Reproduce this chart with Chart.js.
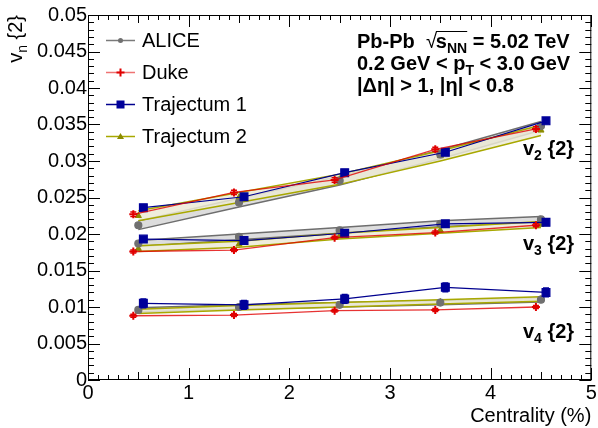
<!DOCTYPE html>
<html>
<head>
<meta charset="utf-8">
<script src="https://cdn.jsdelivr.net/npm/chart.js@4.4.0/dist/chart.umd.min.js"></script>
<style>
  html, body { margin: 0; padding: 0; background: #fff; }
</style>
</head>
<body>
<canvas id="flowChart" width="598" height="428"></canvas>
<script>
// centrality bins (x), models are shifted a bit left / right like in the original
const centrality = [0.5, 1.5, 2.5, 3.5, 4.5];
const dukeX = [0.45, 1.45, 2.45, 3.45, 4.45];
const traj1X = [0.55, 1.55, 2.55, 3.55, 4.55];

const aliceV2 = [0.0212, 0.0243, 0.0273, 0.0309, 0.0348];
const aliceV3 = [0.0187, 0.0196, 0.0205, 0.0214, 0.0220];
const aliceV4 = [0.0096, 0.0100, 0.0103, 0.0106, 0.0110];
const aliceBandV2 = [0.0006, 0.0006, 0.0006, 0.0006, 0.0006];
const aliceBandV3 = [0.0004, 0.0004, 0.0004, 0.0004, 0.0004];
const aliceBandV4 = [0.0003, 0.0003, 0.0003, 0.0003, 0.0003];

const dukeV2 = [0.0227, 0.0257, 0.0274, 0.0316, 0.0344];
const dukeV3 = [0.0176, 0.0178, 0.0195, 0.0202, 0.0212];
const dukeV4 = [0.0088, 0.0089, 0.0095, 0.0096, 0.0100];
const dukeErrV2 = [0.0003, 0.0003, 0.0003, 0.0003, 0.0003];
const dukeErrV3 = [0.0002, 0.0002, 0.0002, 0.0002, 0.0002];
const dukeErrV4 = [0.0002, 0.0002, 0.0002, 0.0002, 0.0002];

const traj1V2 = [0.0236, 0.0251, 0.0284, 0.0312, 0.0355];
const traj1V3 = [0.0193, 0.0191, 0.0201, 0.0214, 0.0216];
const traj1V4 = [0.0105, 0.0103, 0.0111, 0.0127, 0.0120];
const traj1ErrV2 = [0.0003, 0.0003, 0.0003, 0.0003, 0.0003];
const traj1ErrV3 = [0.0003, 0.0003, 0.0003, 0.0003, 0.0003];
const traj1ErrV4 = [0.0006, 0.0006, 0.0006, 0.0006, 0.0006];

const traj2V2 = [0.0225, 0.0250, 0.0275, 0.0307, 0.0342];
const traj2V3 = [0.0180, 0.0186, 0.0197, 0.0205, 0.0213];
const traj2V4 = [0.0094, 0.0099, 0.0103, 0.0107, 0.0111];
const traj2BandV2 = [0.0007, 0.0007, 0.0007, 0.0007, 0.0007];
const traj2BandV3 = [0.0004, 0.0004, 0.0004, 0.0004, 0.0004];
const traj2BandV4 = [0.0003, 0.0003, 0.0003, 0.0003, 0.0003];

const harmonics = ['2', '3', '4'];
const seriesNames = ['ALICE', 'Duke', 'Trajectum 1', 'Trajectum 2'];

const FONT = '"Liberation Sans", Arial, Helvetica, sans-serif';
const C_ALICE = '#7a7a7a';
const C_DUKE = '#e00000';
const C_TRAJ1 = '#00008f';
const C_TRAJ2 = '#a8a800';

function pts(xs, ys) {
    return xs.map((x, i) => ({ x: x, y: ys[i] }));
}
function shifted(xs, ys, d, sign) {
    return xs.map((x, i) => ({ x: x, y: ys[i] + sign * d[i] }));
}

function bandSets(ys, d, edge, fill) {
    return [
        { data: shifted(centrality, ys, d, -1), borderColor: edge, borderWidth: 1.5, pointRadius: 0, fill: false, order: 2 },
        { data: shifted(centrality, ys, d, 1), borderColor: edge, borderWidth: 1.5, pointRadius: 0, fill: '-1', backgroundColor: fill, order: 2 }
    ];
}

const datasets = [];
// ALICE bands first (drawn lowest), then Trajectum 2 bands
[[aliceV2, aliceBandV2], [aliceV3, aliceBandV3], [aliceV4, aliceBandV4]].forEach(p => {
    bandSets(p[0], p[1], '#6e6e6e', 'rgba(215,215,215,0.85)').forEach(d => { d.order = 3; datasets.push(d); });
});
[[traj2V2, traj2BandV2], [traj2V3, traj2BandV3], [traj2V4, traj2BandV4]].forEach(p => {
    bandSets(p[0], p[1], C_TRAJ2, 'rgba(236,234,214,0.85)').forEach(d => datasets.push(d));
});
[aliceV2, aliceV3, aliceV4].forEach(v => datasets.push({
    data: pts(centrality, v), borderColor: C_ALICE, borderWidth: 1.2, showLine: false,
    pointStyle: 'circle', pointRadius: 3.5, pointBackgroundColor: '#707070', pointBorderColor: '#707070', order: 1
}));
[traj2V2, traj2V3, traj2V4].forEach(v => datasets.push({
    data: pts(centrality, v), showLine: false,
    pointStyle: 'triangle', pointRadius: 3.5, pointBackgroundColor: '#8c8c00', pointBorderColor: '#8c8c00', order: 1
}));
[[dukeV2, dukeErrV2], [dukeV3, dukeErrV3], [dukeV4, dukeErrV4]].forEach(p => datasets.push({
    data: pts(dukeX, p[0]), errors: p[1], borderColor: 'rgba(225,0,0,0.8)', borderWidth: 1.3, tension: 0,
    pointStyle: 'cross', pointRadius: 4, pointBorderWidth: 2, pointBorderColor: C_DUKE, fill: false, order: 0
}));
[[traj1V2, traj1ErrV2], [traj1V3, traj1ErrV3], [traj1V4, traj1ErrV4]].forEach(p => datasets.push({
    data: pts(traj1X, p[0]), errors: p[1], borderColor: C_TRAJ1, borderWidth: 1.2, tension: 0,
    pointStyle: 'rect', pointRadius: 5.5, pointBackgroundColor: '#00009a', pointBorderColor: '#00009a', fill: false, order: 0
}));

// draw text with sub/superscripts: parts = [[text, 'n'|'sub'|'sup'], ...]
function richWidth(ctx, parts, size, weight) {
    let w = 0;
    parts.forEach(p => {
        const s = p[1] === 'sub' || p[1] === 'sup' ? size * 0.7 : size;
        ctx.font = weight + ' ' + s + 'px ' + FONT;
        w += ctx.measureText(p[0]).width;
    });
    return w;
}
function drawRich(ctx, parts, x, y, size, weight) {
    ctx.textAlign = 'left';
    ctx.textBaseline = 'alphabetic';
    let cx = x;
    parts.forEach(p => {
        const small = p[1] === 'sub' || p[1] === 'sup';
        const s = small ? size * 0.7 : size;
        ctx.font = weight + ' ' + s + 'px ' + FONT;
        let dy = 0;
        if (p[1] === 'sub') dy = size * 0.25;
        if (p[1] === 'sup') dy = -size * 0.4;
        ctx.fillText(p[0], cx, y + dy);
        cx += ctx.measureText(p[0]).width;
    });
    return cx;
}

const rootStyle = {
    id: 'rootStyle',
    afterDatasetsDraw(chart) {
        const ctx = chart.ctx;
        const ys = chart.scales.y;
        // error bars
        chart.data.datasets.forEach((ds, i) => {
            if (!ds.errors) return;
            const meta = chart.getDatasetMeta(i);
            ctx.save();
            ctx.strokeStyle = ds.pointBorderColor;
            ctx.lineWidth = 1.5;
            meta.data.forEach((pt, j) => {
                const v = ds.data[j].y;
                const y1 = ys.getPixelForValue(v - ds.errors[j]);
                const y2 = ys.getPixelForValue(v + ds.errors[j]);
                ctx.beginPath();
                ctx.moveTo(pt.x, y1); ctx.lineTo(pt.x, y2);
                ctx.moveTo(pt.x - 3, y1); ctx.lineTo(pt.x + 3, y1);
                ctx.moveTo(pt.x - 3, y2); ctx.lineTo(pt.x + 3, y2);
                ctx.stroke();
            });
            ctx.restore();
        });
    },
    afterDraw(chart) {
        const ctx = chart.ctx;
        const a = chart.chartArea;
        const xs = chart.scales.x, ys = chart.scales.y;
        ctx.save();
        // frame
        ctx.strokeStyle = '#000';
        ctx.lineWidth = 1;
        ctx.strokeRect(a.left + 0.5, a.top + 0.5, a.right - a.left - 1, a.bottom - a.top - 1);
        // ticks on all four sides, pointing inwards
        ctx.beginPath();
        for (let k = 0; k <= 50; k++) {
            const xv = k * 0.1;
            const px = Math.round(xs.getPixelForValue(xv)) + 0.5;
            const len = k % 10 === 0 ? 12 : (k % 5 === 0 ? 8 : 5);
            ctx.moveTo(px, a.bottom); ctx.lineTo(px, a.bottom - len);
            ctx.moveTo(px, a.top); ctx.lineTo(px, a.top + len);
        }
        for (let k = 0; k <= 50; k++) {
            const yv = k * 0.001;
            const py = Math.round(ys.getPixelForValue(yv)) + 0.5;
            const len = k % 5 === 0 ? 12 : 6;
            ctx.moveTo(a.left, py); ctx.lineTo(a.left + len, py);
            ctx.moveTo(a.right, py); ctx.lineTo(a.right - len, py);
        }
        ctx.stroke();

        ctx.fillStyle = '#000';
        // axis titles
        ctx.font = '20px ' + FONT;
        ctx.textAlign = 'right';
        ctx.textBaseline = 'alphabetic';
        ctx.fillText('Centrality (%)', a.right, 422);

        const yTitle = [['v', 'n'], ['n', 'sub'], [' {2}', 'n']];
        ctx.save();
        ctx.translate(22, a.top);
        ctx.rotate(-Math.PI / 2);
        const w = richWidth(ctx, yTitle, 20, 'normal');
        drawRich(ctx, yTitle, -w, 0, 20, 'normal');
        ctx.restore();

        // legend
        const legY = [40, 72, 104, 136];
        const legCols = [C_ALICE, 'rgba(225,0,0,0.55)', C_TRAJ1, C_TRAJ2];
        seriesNames.forEach((name, i) => {
            const y = legY[i];
            ctx.strokeStyle = legCols[i];
            ctx.lineWidth = 1.5;
            ctx.beginPath(); ctx.moveTo(106, y + 0.5); ctx.lineTo(135, y + 0.5); ctx.stroke();
            const mx = 120.5;
            if (i === 0) {
                ctx.fillStyle = '#707070';
                ctx.beginPath(); ctx.arc(mx, y + 0.5, 2.5, 0, Math.PI * 2); ctx.fill();
            } else if (i === 1) {
                ctx.strokeStyle = C_DUKE; ctx.lineWidth = 2;
                ctx.beginPath(); ctx.moveTo(mx - 4, y + 0.5); ctx.lineTo(mx + 4, y + 0.5);
                ctx.moveTo(mx, y - 3.5); ctx.lineTo(mx, y + 4.5); ctx.stroke();
            } else if (i === 2) {
                ctx.fillStyle = '#00009a';
                ctx.fillRect(mx - 4, y - 3.5, 8, 8);
            } else {
                ctx.fillStyle = '#8c8c00';
                ctx.beginPath(); ctx.moveTo(mx, y - 3); ctx.lineTo(mx + 3.5, y + 3); ctx.lineTo(mx - 3.5, y + 3); ctx.closePath(); ctx.fill();
            }
            ctx.fillStyle = '#000';
            ctx.font = '20px ' + FONT;
            ctx.textAlign = 'left';
            ctx.textBaseline = 'middle';
            ctx.fillText(name, 142, y + 1);
        });

        // system / kinematics text
        ctx.fillStyle = '#000';
        let x = drawRich(ctx, [['Pb-Pb  ', 'n']], 357, 48, 20, 'bold');
        ctx.font = 'normal 20px ' + FONT;
        ctx.fillText('\u221A', x, 48);
        x += ctx.measureText('\u221A').width - 1;
        const x0 = x;
        x = drawRich(ctx, [['s', 'n'], ['NN', 'sub']], x, 48, 20, 'bold');
        ctx.lineWidth = 1;
        ctx.strokeStyle = '#000';
        ctx.beginPath(); ctx.moveTo(x0, 31.5); ctx.lineTo(x, 31.5); ctx.stroke();
        drawRich(ctx, [[' = 5.02 TeV', 'n']], x, 48, 20, 'bold');
        drawRich(ctx, [['0.2 GeV < p', 'n'], ['T', 'sub'], [' < 3.0 GeV', 'n']], 357, 70, 20, 'bold');
        drawRich(ctx, [['|\u0394\u03B7| > 1, |\u03B7| < 0.8', 'n']], 357, 92, 20, 'bold');

        // harmonic labels
        const labY = [155, 250, 338];
        harmonics.forEach((h, i) => {
            drawRich(ctx, [['v', 'n'], [h, 'sub'], [' {2}', 'n']], 523, labY[i], 20, 'bold');
        });
        ctx.restore();
    }
};

new Chart(document.getElementById('flowChart'), {
    type: 'line',
    data: { datasets: datasets },
    options: {
        responsive: false,
        animation: false,
        layout: { padding: { left: 0, right: 2, top: 15, bottom: 0 } },
        plugins: { legend: { display: false }, tooltip: { enabled: false } },
        scales: {
            x: {
                type: 'linear', min: 0, max: 5,
                grid: { display: false, drawTicks: false },
                border: { display: false },
                ticks: { stepSize: 1, color: '#000', padding: 1, font: { family: FONT, size: 20 }, maxRotation: 0 },
                afterFit(scale) { scale.height = 48; scale.paddingLeft = 0; scale.paddingRight = 0; }
            },
            y: {
                type: 'linear', min: 0, max: 0.05,
                grid: { display: false, drawTicks: false },
                border: { display: false },
                ticks: {
                    stepSize: 0.005, color: '#000', padding: 1, font: { family: FONT, size: 20 },
                    callback: v => String(parseFloat(v.toFixed(3)))
                },
                afterFit(scale) { scale.width = 88; scale.paddingTop = 0; scale.paddingBottom = 0; }
            }
        }
    },
    plugins: [rootStyle]
});
</script>
</body>
</html>
